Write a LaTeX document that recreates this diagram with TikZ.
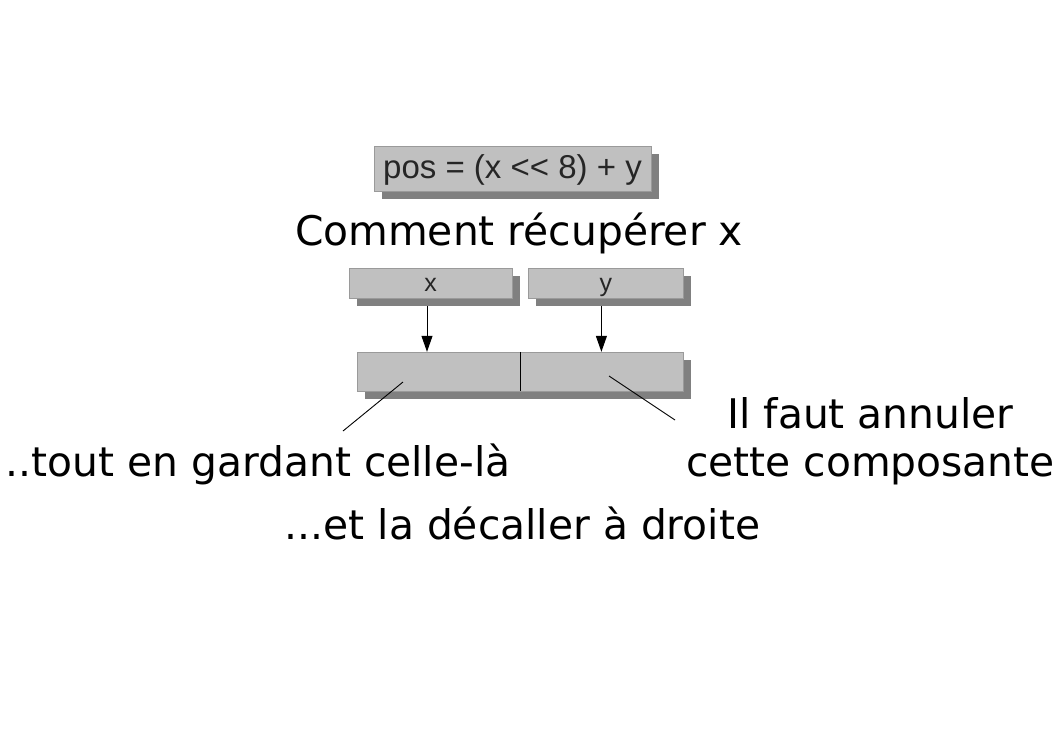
\documentclass[tikz,border=0pt]{standalone}
\usepackage{fontspec}
\setmainfont{DejaVu Sans}
\newfontfamily\boxfont{Liberation Sans}
\usetikzlibrary{arrows.meta, positioning, shadows, calc}
\definecolor{boxgray}{HTML}{C0C0C0}
\definecolor{shadegray}{HTML}{808080}
\definecolor{edgegray}{HTML}{9A9A9A}
\definecolor{textgray}{HTML}{262626}
\tikzstyle{field} = [rectangle, draw=edgegray, fill=boxgray, inner sep=0pt, text centered, text=textgray, drop shadow={shadow xshift=8pt, shadow yshift=-8pt, fill=shadegray, opacity=1}]
\tikzstyle{part} = [field, minimum height=30pt, text height=18pt, text depth=2pt, font=\boxfont\fontsize{25}{29}\selectfont]
\tikzstyle{arrow} = [line width=1pt, -{Triangle[length=16pt,width=11pt]}, black]
\tikzstyle{note} = [font=\fontsize{40.8}{48}\selectfont, inner sep=0pt, align=center]

\begin{document}
\begin{tikzpicture}[x=1pt, y=-1pt]
    \useasboundingbox (0,0) rectangle (1053,745);
    \node (formula) [field, minimum width=277pt, minimum height=45pt, text height=24pt, text depth=5pt, font=\boxfont\fontsize{33}{39}\selectfont] at (512.5,168.5) {pos = (x << 8) + y};
    \node (title) [note, anchor=base] at (519,245) {Comment récupérer x};
    \node (xbox) [part, minimum width=163pt] at (430.5,283) {x};
    \node (ybox) [part, right=16pt of xbox, minimum width=155pt] {y};
    \node (word) [field, minimum width=326pt, minimum height=39pt] at (520,371.5) {};
    \draw [line width=1pt] (word.north) -- (word.south);

    \node (keep) [note, anchor=base] at (258,476) {..tout en gardant celle-là};
    \node (drop) [note, anchor=north] at (870.5,397) {Il faut annuler\\cette composante};
    \node (shift) [note, anchor=base] at (522.5,539) {...et la décaller à droite};

    % arrows into the word
    \draw [arrow] ([xshift=-3.5pt,yshift=-8pt]xbox.south) -- ([xshift=-3.5pt]xbox.south |- word.north);
    \draw [arrow] ([xshift=-4.5pt,yshift=-8pt]ybox.south) -- ([xshift=-4.5pt]ybox.south |- word.north);

    % leaders
    \coordinate (hipart) at (403,382);
    \coordinate (lopart) at (609,376);
    \coordinate (keepend) at (343,431);
    \coordinate (dropend) at (675,420);
    \draw [line width=0.9pt] (hipart) -- (keepend);
    \draw [line width=0.9pt] (lopart) -- (dropend);
\end{tikzpicture}
\end{document}
